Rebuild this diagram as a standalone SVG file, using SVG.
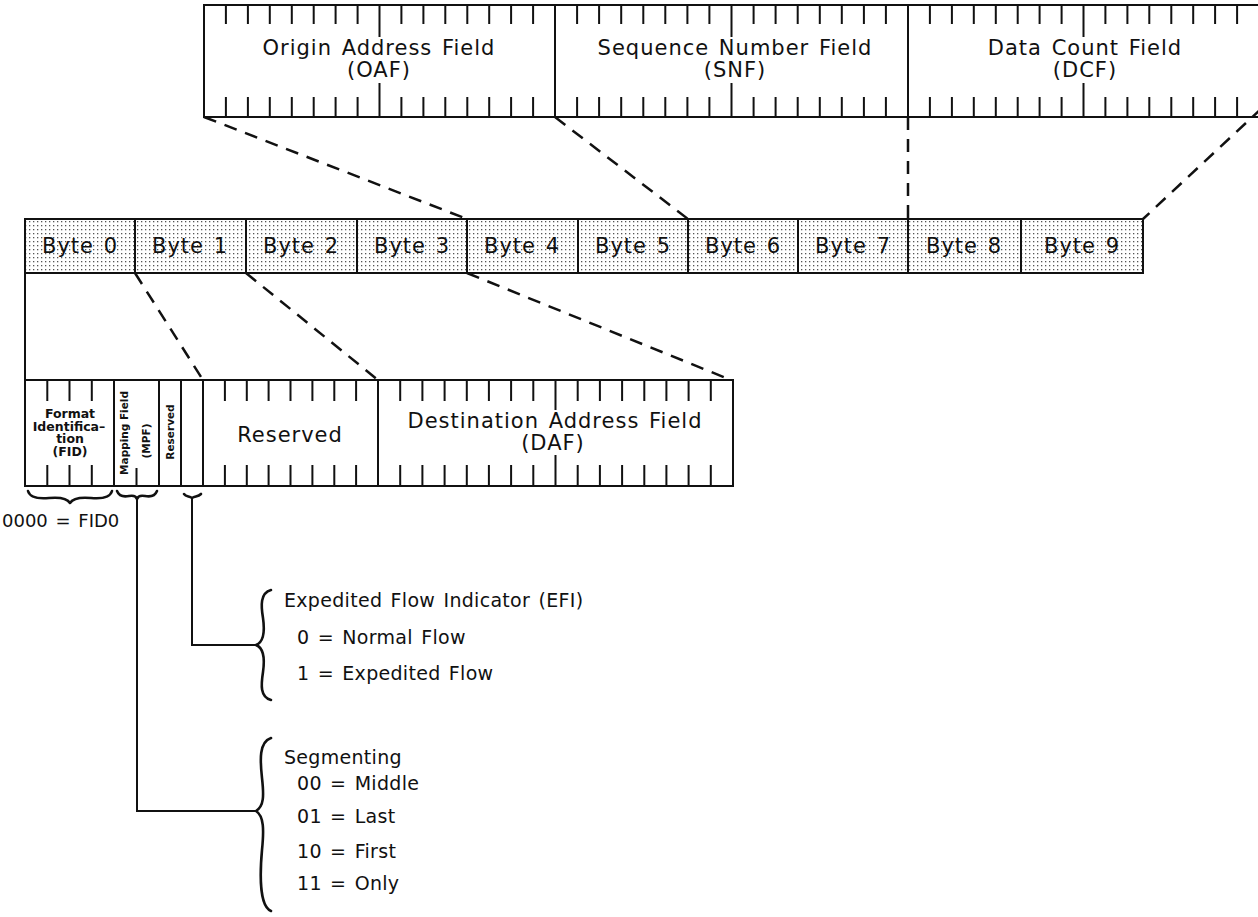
<svg xmlns="http://www.w3.org/2000/svg" width="1258" height="917" viewBox="0 0 1258 917">
<defs>
<pattern id="dots" width="4" height="4" patternUnits="userSpaceOnUse"><rect x="1" y="1" width="1.3" height="1.3" fill="#555"/></pattern>
<style>
.box{fill:none;stroke:#111;stroke-width:2}
.tick{fill:none;stroke:#111;stroke-width:2}
.dash{fill:none;stroke:#111;stroke-width:2.5;stroke-dasharray:13 9}
.conn{fill:none;stroke:#111;stroke-width:2}
.brace{fill:none;stroke:#111;stroke-width:2.6;stroke-linejoin:round;stroke-linecap:round}
.t{font-family:"DejaVu Sans","Liberation Sans",sans-serif;font-size:21px;fill:#111;letter-spacing:1px;word-spacing:2px}
.a{font-family:"DejaVu Sans","Liberation Sans",sans-serif;font-size:19px;fill:#111;letter-spacing:0.3px;word-spacing:2px}
.tm{text-anchor:middle}
.s{font-family:"DejaVu Sans","Liberation Sans",sans-serif;font-size:12.5px;font-weight:bold;fill:#111;text-anchor:middle}
.r{font-family:"DejaVu Sans","Liberation Sans",sans-serif;font-size:10.5px;font-weight:bold;fill:#111;text-anchor:middle}
</style>
</defs>
<rect width="1258" height="917" fill="#fff"/>

<g id="top-fields">
  <rect class="box" x="204" y="5" width="1056" height="112"/>
  <g id="oaf">
    <path class="tick" d="M225.9,5V24M247.9,5V24M269.8,5V24M291.8,5V24M313.7,5V24M335.6,5V24M357.6,5V24M379.5,5V37M401.4,5V24M423.4,5V24M445.3,5V24M467.3,5V24M489.2,5V24M511.1,5V24M533.1,5V24
    M225.9,97V117M247.9,97V117M269.8,97V117M291.8,97V117M313.7,97V117M335.6,97V117M357.6,97V117M379.5,83V117M401.4,97V117M423.4,97V117M445.3,97V117M467.3,97V117M489.2,97V117M511.1,97V117M533.1,97V117"/>
    <text class="t tm" x="379" y="55">Origin Address Field</text>
    <text class="t tm" x="379" y="77">(OAF)</text>
  </g>
  <line class="box" x1="555" y1="5" x2="555" y2="117"/>
  <g id="snf">
    <path class="tick" d="M577.1,5V24M599.1,5V24M621.2,5V24M643.3,5V24M665.3,5V24M687.4,5V24M709.4,5V24M731.5,5V37M753.6,5V24M775.6,5V24M797.7,5V24M819.8,5V24M841.8,5V24M863.9,5V24M885.9,5V24
    M577.1,97V117M599.1,97V117M621.2,97V117M643.3,97V117M665.3,97V117M687.4,97V117M709.4,97V117M731.5,83V117M753.6,97V117M775.6,97V117M797.7,97V117M819.8,97V117M841.8,97V117M863.9,97V117M885.9,97V117"/>
    <text class="t tm" x="735" y="55">Sequence Number Field</text>
    <text class="t tm" x="735" y="77">(SNF)</text>
  </g>
  <line class="box" x1="908" y1="5" x2="908" y2="117"/>
  <g id="dcf">
    <path class="tick" d="M929.9,5V24M951.9,5V24M973.8,5V24M995.8,5V24M1017.7,5V24M1039.6,5V24M1061.6,5V24M1083.5,5V37M1105.4,5V24M1127.4,5V24M1149.3,5V24M1171.3,5V24M1193.2,5V24M1215.1,5V24M1237.1,5V24
    M929.9,97V117M951.9,97V117M973.8,97V117M995.8,97V117M1017.7,97V117M1039.6,97V117M1061.6,97V117M1083.5,83V117M1105.4,97V117M1127.4,97V117M1149.3,97V117M1171.3,97V117M1193.2,97V117M1215.1,97V117M1237.1,97V117"/>
    <text class="t tm" x="1085" y="55">Data Count Field</text>
    <text class="t tm" x="1085" y="77">(DCF)</text>
  </g>
</g>

<g id="byte-row">
  <rect x="25" y="219" width="1118" height="54" fill="url(#dots)"/>
  <rect class="box" x="25" y="219" width="1118" height="54"/>
  <g id="byte0"><text class="t tm" x="80" y="253">Byte 0</text></g>
  <line class="box" x1="135" y1="219" x2="135" y2="273"/>
  <g id="byte1"><text class="t tm" x="190" y="253">Byte 1</text></g>
  <line class="box" x1="246" y1="219" x2="246" y2="273"/>
  <g id="byte2"><text class="t tm" x="301" y="253">Byte 2</text></g>
  <line class="box" x1="357" y1="219" x2="357" y2="273"/>
  <g id="byte3"><text class="t tm" x="412" y="253">Byte 3</text></g>
  <line class="box" x1="467" y1="219" x2="467" y2="273"/>
  <g id="byte4"><text class="t tm" x="522" y="253">Byte 4</text></g>
  <line class="box" x1="578" y1="219" x2="578" y2="273"/>
  <g id="byte5"><text class="t tm" x="633" y="253">Byte 5</text></g>
  <line class="box" x1="688" y1="219" x2="688" y2="273"/>
  <g id="byte6"><text class="t tm" x="743" y="253">Byte 6</text></g>
  <line class="box" x1="798" y1="219" x2="798" y2="273"/>
  <g id="byte7"><text class="t tm" x="853" y="253">Byte 7</text></g>
  <line class="box" x1="908" y1="219" x2="908" y2="273"/>
  <g id="byte8"><text class="t tm" x="964" y="253">Byte 8</text></g>
  <line class="box" x1="1021" y1="219" x2="1021" y2="273"/>
  <g id="byte9"><text class="t tm" x="1082" y="253">Byte 9</text></g>
</g>

<g id="th-detail">
  <rect class="box" x="25" y="380" width="708" height="106"/>
  <g id="fid">
    <path class="tick" d="M47.3,380V401M69.5,380V401M91.8,380V401M47.3,465V486M69.5,465V486M91.8,465V486"/>
    <text class="s" x="70" y="418">Format</text>
    <text class="s" x="69" y="430.5">Identifica–</text>
    <text class="s" x="70" y="443">tion</text>
    <text class="s" x="70" y="455.5">(FID)</text>
  </g>
  <line class="box" x1="114" y1="380" x2="114" y2="486"/>
  <g id="mpf">
    <path class="tick" d="M136.5,468V486"/>
    <text class="r" transform="translate(128,433) rotate(-90)">Mapping Field</text>
    <text class="r" transform="translate(150,441) rotate(-90)">(MPF)</text>
  </g>
  <line class="box" x1="159" y1="380" x2="159" y2="486"/>
  <g id="reserved-bit">
    <text class="r" transform="translate(174,432) rotate(-90)">Reserved</text>
  </g>
  <line class="box" x1="181" y1="380" x2="181" y2="486"/>
  <g id="efi-bit"></g>
  <line class="box" x1="203" y1="380" x2="203" y2="486"/>
  <g id="reserved-byte">
    <path class="tick" d="M224.9,380V401M246.8,380V401M268.6,380V401M290.5,380V401M312.4,380V401M334.3,380V401M356.1,380V401M224.9,465V486M246.8,465V486M268.6,465V486M290.5,465V486M312.4,465V486M334.3,465V486M356.1,465V486"/>
    <text class="t tm" x="290" y="442">Reserved</text>
  </g>
  <line class="box" x1="378" y1="380" x2="378" y2="486"/>
  <g id="daf">
    <path class="tick" d="M400.2,380V401M422.4,380V401M444.6,380V401M466.8,380V401M488.9,380V401M511.1,380V401M533.3,380V401M555.5,380V410M577.7,380V401M599.9,380V401M622.1,380V401M644.3,380V401M666.4,380V401M688.6,380V401M710.8,380V401
    M400.2,465V486M422.4,465V486M444.6,465V486M466.8,465V486M488.9,465V486M511.1,465V486M533.3,465V486M555.5,455V486M577.7,465V486M599.9,465V486M622.1,465V486M644.3,465V486M666.4,465V486M688.6,465V486M710.8,465V486"/>
    <text class="t tm" x="555" y="428">Destination Address Field</text>
    <text class="t tm" x="553" y="450">(DAF)</text>
  </g>
</g>

<g id="fid-note">
  <path class="brace" d="M28,491 C30,498 38,499 49,498 C60,497 67,498 70,503 C73,498 80,497 91,498 C102,499 110,498 112,491"/>
  <text class="a" x="2" y="527" style="font-size:18px;letter-spacing:0">0000 = FID0</text>
</g>
<g id="mpf-brace">
  <path class="brace" d="M117,491 C119,496 124,497 129,496 C134,495 136,496 137,499 C138,496 140,495 145,496 C150,497 155,496 157,491"/>
</g>
<g id="efi-brace">
  <path class="brace" d="M184,494 C186,497 189,496 192,498 C195,496 198,497 201,494"/>
</g>

<g id="efi-note">
  <path class="brace" d="M271,590 C260,593 261,606 263,618 C265,632 264,642 256,645 C264,648 265,658 263,672 C261,685 260,697 271,700"/>
  <text class="a" x="284" y="607">Expedited Flow Indicator (EFI)</text>
  <text class="a" x="297" y="644">0 = Normal Flow</text>
  <text class="a" x="297" y="680">1 = Expedited Flow</text>
</g>

<g id="segmenting-note">
  <path class="brace" d="M271,738 C259,742 260,760 262,778 C264,796 264,806 256,811 C264,816 264,830 262,850 C260,872 259,906 271,911"/>
  <text class="a" x="284" y="764">Segmenting</text>
  <text class="a" x="297" y="790">00 = Middle</text>
  <text class="a" x="297" y="823">01 = Last</text>
  <text class="a" x="297" y="858">10 = First</text>
  <text class="a" x="297" y="890">11 = Only</text>
</g>

<g id="connectors">
  <path class="dash" d="M204,117L467,219"/>
  <path class="dash" d="M555,117L688,219"/>
  <path class="dash" d="M908,117L908,219"/>
  <path class="dash" d="M1262,108L1143,219"/>
  <path class="dash" d="M135,273L203,380"/>
  <path class="dash" d="M246,273L378,380"/>
  <path class="dash" d="M467,273L731,380"/>
  <path class="conn" d="M25,273V380"/>
  <path class="conn" d="M192,498V645H256"/>
  <path class="conn" d="M137,499V811H256"/>
</g>
</svg>
